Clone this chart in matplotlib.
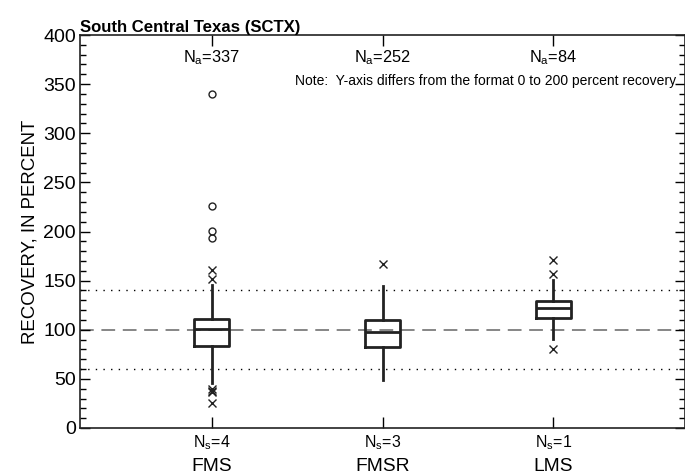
import numpy as np
import matplotlib.pyplot as plt

plt.rcParams["font.family"] = ["Liberation Sans", "DejaVu Sans"]
plt.rcParams["mathtext.fontset"] = "custom"
plt.rcParams["mathtext.rm"] = "Liberation Sans"
plt.rcParams["mathtext.it"] = "Liberation Sans"

# Recovery summaries by method
methods = ["FMS", "FMSR", "LMS"]
n_analyses = [337, 252, 84]
n_samples = [4, 3, 1]
q1 = [83.5, 82.8, 112.3]
median = [100.4, 98.0, 121.8]
q3 = [110.6, 110.0, 129.6]
whisker_lo = [45.8, 48.9, 90.2]
whisker_hi = [146.0, 144.5, 150.6]

# outside values (x) and far-outside values (o)
outside = [[161, 152, 40, 38, 37, 25], [167], [171, 157, 80]]
far_outside = [[340, 226, 201, 193], [], []]

positions = [1, 2, 3]

fig = plt.figure(figsize=(6.85, 4.76), dpi=100)
ax = fig.add_axes([80 / 685, 1 - 428 / 476, 1 - 80 / 685, (428 - 35) / 476])

# reference lines
ax.axhline(100, color="#666666", lw=1.1, ls=(0, (9, 5)), zorder=1)
for y in (60, 140):
    ax.axhline(y, color="black", lw=1.0, ls=(0, (1, 4.5)), zorder=1)

stats = []
for i in range(len(methods)):
    stats.append({
        "med": median[i], "q1": q1[i], "q3": q3[i],
        "whislo": whisker_lo[i], "whishi": whisker_hi[i], "fliers": [],
    })

ax.bxp(stats, positions=positions, widths=0.205, showcaps=False, showfliers=False,
       boxprops=dict(color="#222222", lw=2.0),
       whiskerprops=dict(color="#222222", lw=2.0),
       medianprops=dict(color="#222222", lw=2.0),
       manage_ticks=False, zorder=3)

for p, vals in zip(positions, outside):
    ax.plot([p] * len(vals), vals, ls="none", marker="x", ms=5.5, mew=1.0,
            color="#222222", zorder=4)
for p, vals in zip(positions, far_outside):
    if vals:
        ax.plot([p] * len(vals), vals, ls="none", marker="o", ms=5, mew=1.0,
                mfc="none", mec="#222222", zorder=4)

ax.set_xlim(0.23, 3.77)
ax.set_ylim(0, 400)
ax.set_yticks(np.arange(0, 401, 50))
ax.set_yticks(np.arange(0, 401, 10), minor=True)
ax.tick_params(axis="y", which="major", direction="in", length=7, width=1.0,
               right=True, labelsize=14, pad=3)
ax.tick_params(axis="y", which="minor", direction="in", length=4, width=1.0, right=True)
ax.set_xticks(positions)
ax.set_xticklabels([rf"N$_\mathrm{{s}}$={n}" for n in n_samples])
ax.tick_params(axis="x", direction="in", length=8, width=1.0, top=True,
               labelsize=11.5, pad=4)

for p, name in zip(positions, methods):
    ax.text(p, -0.077, name, transform=ax.get_xaxis_transform(), ha="center",
            va="top", fontsize=13.8)
for p, n in zip(positions, n_analyses):
    ax.text(p, 377, rf"N$_\mathrm{{a}}$={n}", ha="center", va="center", fontsize=11.8)

ax.text(0.985, 353, "Note:  Y-axis differs from the format 0 to 200 percent recovery",
        transform=ax.get_yaxis_transform(), ha="right", va="center", fontsize=10)

ax.set_ylabel("RECOVERY, IN PERCENT", fontsize=13.4, labelpad=3)
ax.set_title("South Central Texas (SCTX)", loc="left", fontsize=12.1,
             fontweight="bold", pad=2)

for s in ax.spines.values():
    s.set_linewidth(1.2)
    s.set_color("#222222")

fig.savefig("out.png", dpi=100)
